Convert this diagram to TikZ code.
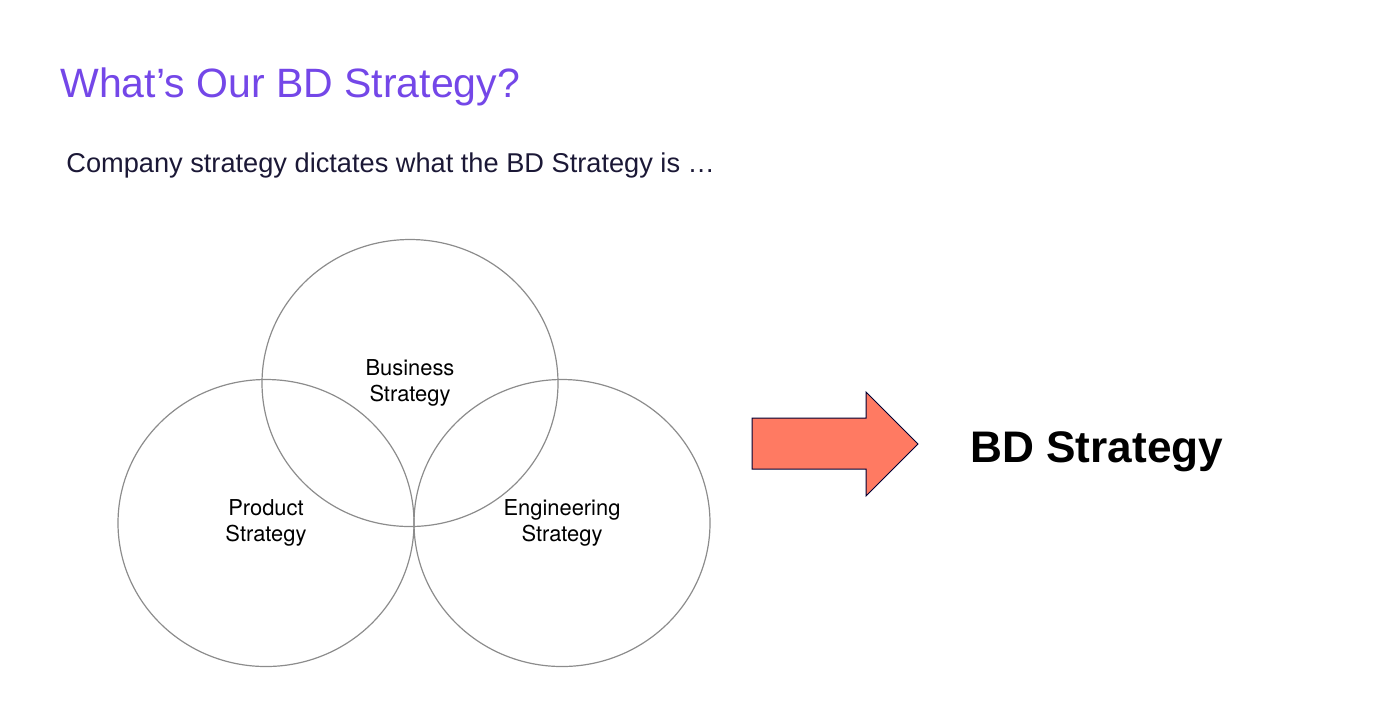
\documentclass[tikz,border=0pt]{standalone}
\usepackage{fontspec}
\setmainfont{Liberation Sans}
\newfontfamily\helv{TeX Gyre Heros}
\usepackage{tikz}
\usetikzlibrary{calc,shapes.geometric}
\definecolor{titlepurple}{HTML}{7447E8}
\definecolor{navytext}{HTML}{1B1836}
\definecolor{salmon}{HTML}{FF7A62}
\definecolor{ringgray}{HTML}{8C8C8C}

\begin{document}
\begin{tikzpicture}[x=0.5pt,y=-0.5pt,
  venn/.style={ellipse,draw=ringgray,line width=0.6pt,minimum width=148pt,minimum height=143.5pt,
    inner sep=0pt,align=center,font=\helv\fontsize{10.95}{12.8}\selectfont,text=black}]
\useasboundingbox (0,0) rectangle (1396,720);
% --- heading and lead line ---
\node[titlepurple,anchor=base west,inner sep=0pt,font=\fontsize{20.5}{25}\selectfont] (title) at (60,97) {What’s Our BD Strategy?};
\node[navytext,anchor=base west,inner sep=0pt,font=\fontsize{13.6}{16}\selectfont] (lead) at (66,172) {Company strategy dictates what the BD Strategy is …};
% --- the three strategy circles ---
\node[venn] (business) at (410,383) {Business\\Strategy};
\node[venn] (product) at (266,523) {Product\\Strategy};
\node[venn] (engineering) at (562,523) {Engineering\\Strategy};
% --- the block arrow and its result ---
\filldraw[salmon,draw=black!80!blue,line width=0.5pt]
  (752,418) -- (866,418) -- (866,392) -- (918,444) -- (866,496) -- (866,469) -- (752,469) -- cycle;
\node[black,anchor=base west,inner sep=0pt,font=\bfseries\fontsize{22.1}{27}\selectfont] (bd) at (970,462) {BD Strategy};
\end{tikzpicture}
\end{document}
